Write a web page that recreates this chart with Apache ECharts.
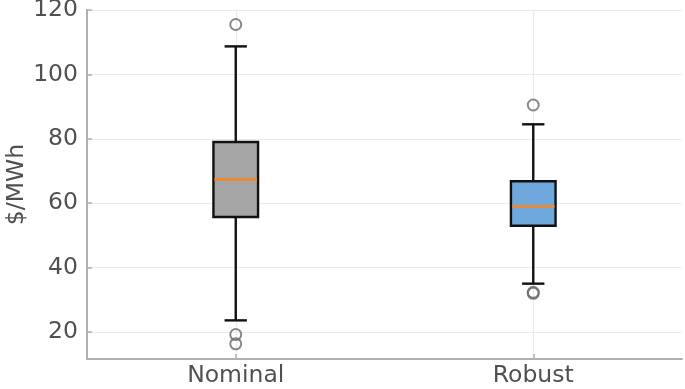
<!DOCTYPE html>
<html>
<head>
<meta charset="utf-8">
<script src="https://cdn.jsdelivr.net/npm/echarts@6/dist/echarts.min.js"></script>
<style>
  html, body { margin: 0; padding: 0; background: #fff; }
  #chart { width: 685px; height: 389px; }
</style>
</head>
<body>
<div id="chart"></div>
<script>
// box statistics
const categories = ["Nominal", "Robust"];
const whiskerLow = [23.6, 35.0];
const q1 = [55.7, 53.0];
const medians = [67.4, 59.0];
const q3 = [79.0, 66.8];
const whiskerHigh = [108.7, 84.5];
// [category index, value]
const outliers = [[0, 115.5], [0, 19.2], [0, 16.3], [1, 90.5], [1, 32.0], [1, 32.3]];
const boxColors = ["#a5a5a5", "#6fa8dc"];
const yTicks = [20, 40, 60, 80, 100, 120];

const boxData = categories.map((c, i) => [i, whiskerLow[i], q1[i], medians[i], q3[i], whiskerHigh[i]]);

const chart = echarts.init(document.getElementById("chart"));

function renderBox(params, api) {
  const i = api.value(0);
  const w = api.size([1, 0])[0] * 0.15;
  const x = api.coord([i, 0])[0];
  const yLo = api.coord([i, api.value(1)])[1];
  const yQ1 = api.coord([i, api.value(2)])[1];
  const yMed = api.coord([i, api.value(3)])[1];
  const yQ3 = api.coord([i, api.value(4)])[1];
  const yHi = api.coord([i, api.value(5)])[1];
  const black = { stroke: "#111", lineWidth: 2.4, fill: null };
  return {
    type: "group",
    children: [
      { type: "line", shape: { x1: x, y1: yLo, x2: x, y2: yQ1 }, style: black },
      { type: "line", shape: { x1: x, y1: yQ3, x2: x, y2: yHi }, style: black },
      { type: "line", shape: { x1: x - w / 4, y1: yLo, x2: x + w / 4, y2: yLo }, style: black },
      { type: "line", shape: { x1: x - w / 4, y1: yHi, x2: x + w / 4, y2: yHi }, style: black },
      {
        type: "rect",
        shape: { x: x - w / 2, y: yQ3, width: w, height: yQ1 - yQ3 },
        style: { fill: boxColors[i], stroke: "#111", lineWidth: 2.4 }
      },
      { type: "line", shape: { x1: x - w / 2 + 1, y1: yMed, x2: x + w / 2 - 1, y2: yMed }, style: { stroke: "#f0882a", lineWidth: 2.6 } }
    ]
  };
}

const option = {
  animation: false,
  grid: { left: 87, right: 3, top: 10, bottom: 30, outerBoundsMode: "none", containLabel: false },
  xAxis: {
    type: "category",
    data: categories,
    boundaryGap: true,
    axisLine: { lineStyle: { color: "#b0b0b0", width: 2 } },
    axisTick: { show: true, inside: true, alignWithLabel: true, length: 5, lineStyle: { color: "#b0b0b0", width: 1.5 } },
    axisLabel: { color: "#505050", fontSize: 23.5, fontFamily: "DejaVu Sans", margin: 5 },
    splitLine: { show: true, alignWithLabel: true, lineStyle: { color: "#ebebeb", width: 1.2 } }
  },
  yAxis: {
    type: "value",
    min: 11.6,
    max: 120,
    splitNumber: 5,
    name: "$/MWh",
    nameLocation: "middle",
    nameGap: 58,
    nameMoveOverlap: false,
    nameTextStyle: { color: "#505050", fontSize: 23.5, fontFamily: "DejaVu Sans" },
    axisLine: { show: true, lineStyle: { color: "#b0b0b0", width: 2 } },
    axisTick: { show: true, inside: true, length: 5, lineStyle: { color: "#b0b0b0", width: 1.5 } },
    axisLabel: {
      color: "#505050", fontSize: 23.5, fontFamily: "DejaVu Sans", margin: 9,
      formatter: v => (yTicks.indexOf(v) >= 0 ? String(v) : "")
    },
    splitLine: { show: true, lineStyle: { color: "#ebebeb", width: 1.2 } }
  },
  series: [
    {
      type: "custom",
      renderItem: renderBox,
      encode: { x: 0, y: [1, 2, 3, 4, 5] },
      data: boxData,
      z: 3
    },
    {
      type: "scatter",
      data: outliers,
      symbol: "circle",
      symbolSize: 11,
      itemStyle: { color: "rgba(0,0,0,0)", borderColor: "#6a6a6a", borderWidth: 2 },
      z: 4
    }
  ]
};

chart.setOption(option);
window.addEventListener("resize", chart.resize);
</script>
</body>
</html>
